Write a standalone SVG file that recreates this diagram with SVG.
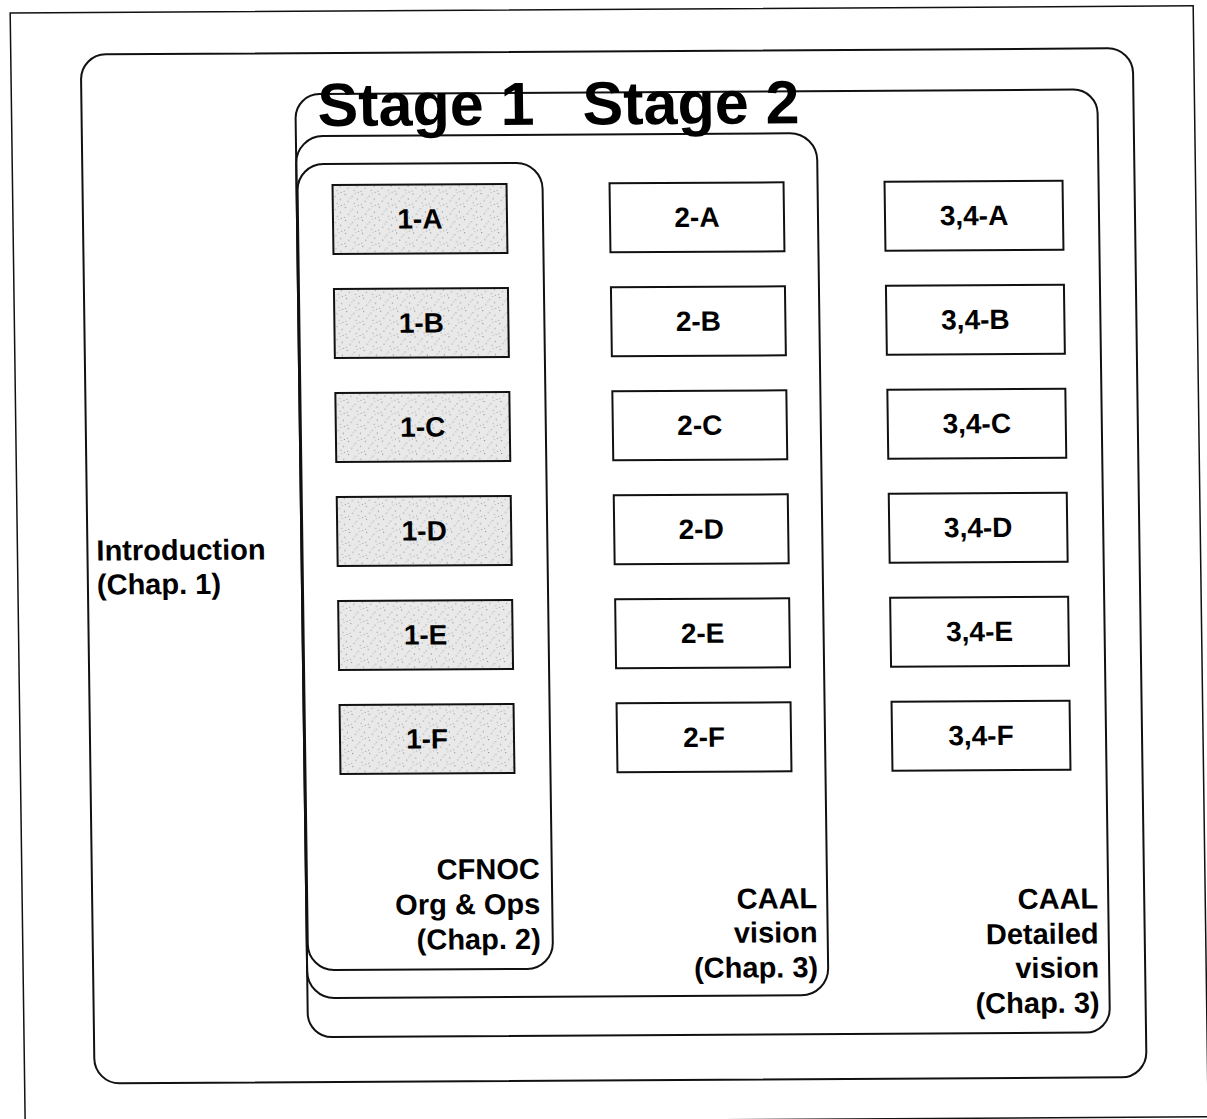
<svg xmlns="http://www.w3.org/2000/svg" width="1207" height="1119" viewBox="0 0 1207 1119">
  <defs>
    <pattern id="stipple" width="17" height="13" patternUnits="userSpaceOnUse">
      <rect width="17" height="13" fill="#e9e9e9"/>
      <rect x="2" y="1" width="1" height="1" fill="#7a7a7a"/>
      <rect x="9" y="3" width="1" height="1" fill="#909090"/>
      <rect x="14" y="6" width="1" height="1" fill="#7a7a7a"/>
      <rect x="5" y="8" width="1" height="1" fill="#8a8a8a"/>
      <rect x="11" y="10" width="1" height="1" fill="#989898"/>
      <rect x="1" y="11" width="1" height="1" fill="#a0a0a0"/>
      <rect x="7" y="5" width="1" height="1" fill="#b0b0b0"/>
      <rect x="15" y="12" width="1" height="1" fill="#9a9a9a"/>
      <rect x="12" y="0" width="1" height="1" fill="#b5b5b5"/>
    </pattern>
    <style>
      .frame { fill: none; stroke: #111; stroke-width: 1.5; }
      .region { fill: none; stroke: #111; stroke-width: 2; }
      .box { fill: #fff; stroke: #111; stroke-width: 2; }
      .box.grey { fill: url(#stipple); }
      .lbl { font-family: "Liberation Sans", Arial, sans-serif; font-weight: bold; font-size: 28px; fill: #000; text-anchor: middle; }
      .side { font-family: "Liberation Sans", Arial, sans-serif; font-weight: bold; font-size: 29px; fill: #000; text-anchor: end; }
      .intro { text-anchor: start; }
      .title { font-family: "Liberation Sans", Arial, sans-serif; font-weight: bold; font-size: 61px; fill: #000; }
    </style>
  </defs>
  <rect width="1207" height="1119" fill="#fff"/>
  <g transform="matrix(1 -0.006 0.0135 1 0 0)">
    <rect class="frame" x="10" y="13" width="1183" height="1111"/>

    <g id="introduction">
      <rect class="region" x="80" y="55" width="1052" height="1029" rx="25" ry="25"/>
      <text class="side intro" x="89" y="561">Introduction</text>
      <text class="side intro" x="89" y="595">(Chap. 1)</text>
    </g>

    <g id="stage-detailed">
      <rect class="region" x="294" y="96" width="802" height="943" rx="24" ry="24"/>
      <text class="side" x="1086" y="915">CAAL</text>
      <text class="side" x="1086" y="950">Detailed</text>
      <text class="side" x="1086" y="984">vision</text>
      <text class="side" x="1086" y="1019">(Chap. 3)</text>
    </g>

    <g id="stage-2">
      <rect class="region" x="294" y="138" width="521" height="862" rx="27" ry="27"/>
      <text class="side" x="805" y="913">CAAL</text>
      <text class="side" x="805" y="947">vision</text>
      <text class="side" x="805" y="982">(Chap. 3)</text>
    </g>

    <g id="stage-1">
      <rect class="region" x="295" y="166" width="245" height="806" rx="26" ry="26"/>
      <text class="side" x="528" y="882">CFNOC</text>
      <text class="side" x="528" y="917">Org &amp; Ops</text>
      <text class="side" x="528" y="952">(Chap. 2)</text>
    </g>

    <g id="titles">
      <text class="title" x="316" y="128">Stage 1</text>
      <text class="title" x="581" y="128">Stage 2</text>
    </g>

    <g id="n1A"><rect class="box grey" x="330" y="187" width="174" height="69"/><text class="lbl" x="417" y="231">1-A</text></g>
    <g id="n1B"><rect class="box grey" x="330" y="291" width="174" height="69"/><text class="lbl" x="417" y="335">1-B</text></g>
    <g id="n1C"><rect class="box grey" x="330" y="395" width="174" height="69"/><text class="lbl" x="417" y="439">1-C</text></g>
    <g id="n1D"><rect class="box grey" x="330" y="499" width="174" height="69"/><text class="lbl" x="417" y="543">1-D</text></g>
    <g id="n1E"><rect class="box grey" x="330" y="603" width="174" height="69"/><text class="lbl" x="417" y="647">1-E</text></g>
    <g id="n1F"><rect class="box grey" x="330" y="707" width="174" height="69"/><text class="lbl" x="417" y="751">1-F</text></g>

    <g id="n2A"><rect class="box" x="607" y="187" width="174" height="69"/><text class="lbl" x="694" y="231">2-A</text></g>
    <g id="n2B"><rect class="box" x="607" y="291" width="174" height="69"/><text class="lbl" x="694" y="335">2-B</text></g>
    <g id="n2C"><rect class="box" x="607" y="395" width="174" height="69"/><text class="lbl" x="694" y="439">2-C</text></g>
    <g id="n2D"><rect class="box" x="607" y="499" width="174" height="69"/><text class="lbl" x="694" y="543">2-D</text></g>
    <g id="n2E"><rect class="box" x="607" y="603" width="174" height="69"/><text class="lbl" x="694" y="647">2-E</text></g>
    <g id="n2F"><rect class="box" x="607" y="707" width="174" height="69"/><text class="lbl" x="694" y="751">2-F</text></g>

    <g id="n34A"><rect class="box" x="882" y="187" width="178" height="69"/><text class="lbl" x="971" y="231">3,4-A</text></g>
    <g id="n34B"><rect class="box" x="882" y="291" width="178" height="69"/><text class="lbl" x="971" y="335">3,4-B</text></g>
    <g id="n34C"><rect class="box" x="882" y="395" width="178" height="69"/><text class="lbl" x="971" y="439">3,4-C</text></g>
    <g id="n34D"><rect class="box" x="882" y="499" width="178" height="69"/><text class="lbl" x="971" y="543">3,4-D</text></g>
    <g id="n34E"><rect class="box" x="882" y="603" width="178" height="69"/><text class="lbl" x="971" y="647">3,4-E</text></g>
    <g id="n34F"><rect class="box" x="882" y="707" width="178" height="69"/><text class="lbl" x="971" y="751">3,4-F</text></g>

    <g id="connectors"/>
  </g>
</svg>
